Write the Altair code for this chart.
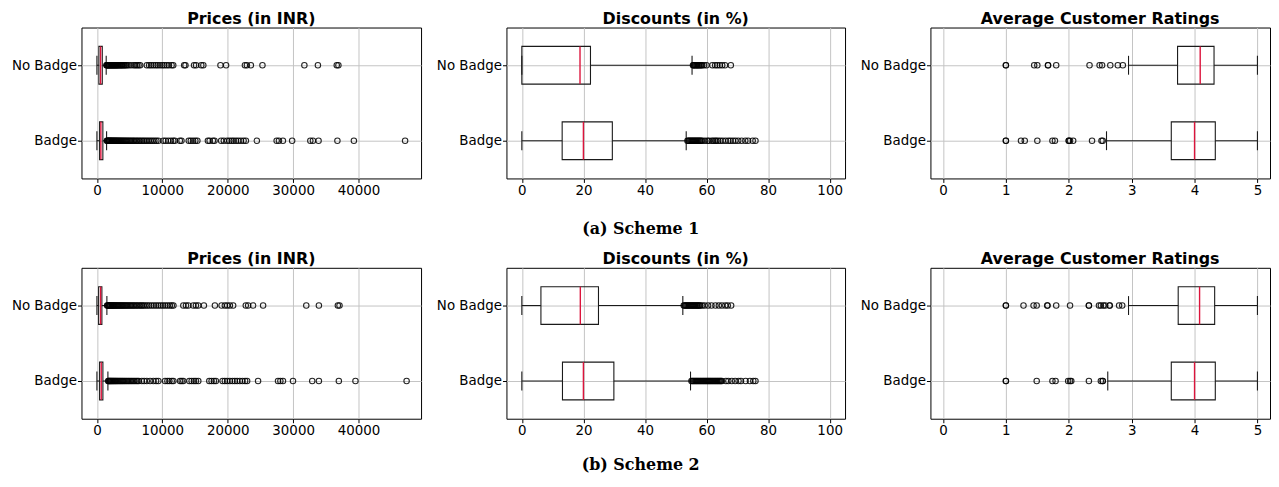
import altair as alt
import pandas as pd

groups = ["Badge", "No Badge"]
positions = [1, 2]

# box stats: [whisker_lo, q1, median, q3, whisker_hi]
s1_price_b = [0, 410, 606, 910, 1480]
s1_price_nb = [0, 300, 560, 820, 1420]
s1_disc_b = [0, 13.1, 20.0, 29.4, 53.4]
s1_disc_nb = [0, 0, 18.9, 22.3, 55.3]
s1_rat_b = [2.6, 3.63, 4.0, 4.33, 5.0]
s1_rat_nb = [2.95, 3.73, 4.09, 4.31, 5.0]

s2_price_b = [0, 410, 660, 915, 1680]
s2_price_nb = [0, 260, 560, 760, 1524]
s2_disc_b = [0, 13.2, 20.0, 29.9, 54.8]
s2_disc_nb = [0, 6.2, 19.0, 24.9, 52.3]
s2_rat_b = [2.62, 3.63, 4.0, 4.33, 5.0]
s2_rat_nb = [2.95, 3.74, 4.08, 4.32, 5.0]

# outliers
s1_price_nb_out = [1450, 1530, 1610, 1700, 1790, 1880, 1960, 2050, 2150, 2240, 2330, 2420, 2520, 2610,
                   2700, 2800, 2900, 3000, 3100, 3200, 3320, 3450, 3560, 3700, 3820, 3950, 4100, 4250,
                   4400, 4600, 4850, 5210, 5610, 5860, 6120, 6370, 6620, 7630, 7980, 8290, 8640, 8990,
                   9300, 9650, 10000, 10310, 10660, 11010, 11420, 11670, 13340, 13540, 14850, 15160,
                   15960, 16270, 18890, 19750, 22630, 22930, 23540, 25310, 31720, 33790, 36670, 36920]
s1_price_b_out = [1520, 1600, 1690, 1780, 1870, 1960, 2060, 2160, 2260, 2360, 2470, 2580, 2690, 2800,
                  2920, 3040, 3160, 3290, 3420, 3560, 3700, 3850, 4000, 4160, 4320, 4490, 4660, 4840,
                  5020, 5210, 5400, 5600, 5800, 6010, 6230, 6450, 6680, 6920, 7160, 7410, 7670, 7940,
                  8220, 8500, 8790, 9090, 9400, 10160, 10510, 10910, 11320, 11670, 11920, 12680, 12930,
                  14040, 14350, 14700, 15050, 15360, 16970, 17230, 17730, 17980, 18990, 19400, 19900,
                  20260, 20610, 20910, 21270, 21620, 22020, 22430, 22780, 24450, 27480, 27830, 28440,
                  29850, 32630, 33030, 33890, 36770, 39290, 47120]
s1_disc_nb_out = [55.6, 55.8, 56.0, 56.3, 56.6, 56.9, 57.1, 57.4, 57.7, 58.0, 58.3, 58.6, 59.2, 60.0,
                  61.9, 62.8, 63.5, 64.3, 65.1, 66.0, 67.9]
s1_disc_b_out = [53.8, 54.1, 54.4, 54.7, 55.0, 55.3, 55.6, 55.9, 56.2, 56.5, 56.8, 57.1, 57.4, 57.7,
                 58.0, 58.3, 58.7, 59.5, 60.3, 60.8, 61.7, 62.2, 62.8, 63.2, 63.8, 64.5, 65.3, 66.2,
                 67.1, 67.8, 68.6, 69.4, 70.3, 71.4, 72.6, 73.5, 75.0, 75.9]
s1_rat_nb_out = [1.0, 1.0, 1.45, 1.5, 1.67, 1.67, 1.8, 2.33, 2.49, 2.53, 2.66, 2.78, 2.86]
s1_rat_b_out = [1.0, 1.0, 1.24, 1.30, 1.50, 1.74, 1.78, 2.0, 2.0, 2.02, 2.07, 2.37, 2.52, 2.54]

s2_price_nb_out = [1560, 1650, 1740, 1830, 1930, 2030, 2130, 2240, 2350, 2460, 2570, 2690, 2810, 2940,
                   3070, 3200, 3340, 3480, 3630, 3780, 3940, 4100, 4270, 4440, 4620, 4800, 4990, 5180,
                   5380, 5580, 5790, 6000, 6220, 6450, 6680, 6900, 7120, 7400, 7700, 8000, 8350, 8700,
                   9050, 9400, 9750, 10100, 10450, 10800, 11150, 11450, 11700, 13210, 13620, 13980,
                   14740, 15140, 15500, 16360, 18040, 19060, 19560, 19920, 20330, 20830, 22760, 23120,
                   23880, 25410, 32010, 33940, 36840, 37090]
s2_price_b_out = [1720, 1810, 1900, 2000, 2100, 2200, 2310, 2420, 2530, 2650, 2770, 2890, 3020, 3150,
                  3290, 3430, 3580, 3730, 3890, 4050, 4220, 4390, 4570, 4760, 4950, 5150, 5350, 5560,
                  5770, 5990, 6200, 6400, 6860, 7220, 7630, 8130, 8640, 9050, 9400, 10420, 10780,
                  11080, 11440, 11690, 12710, 12960, 13210, 14130, 14480, 14840, 15140, 15500, 17180,
                  17530, 17890, 18190, 19210, 19560, 19920, 20330, 20730, 21090, 21440, 21850, 22260,
                  22660, 22970, 24640, 27690, 28050, 28450, 29980, 32920, 33940, 36990, 39530, 47350]
s2_disc_nb_out = [52.6, 52.9, 53.2, 53.5, 53.8, 54.1, 54.4, 54.7, 55.0, 55.3, 55.6, 55.9, 56.2,
                  56.5, 56.8, 57.1, 57.4, 57.7, 58.0, 58.6, 59.4, 60.5, 61.6, 62.9, 64.0, 65.0, 66.1,
                  66.9, 68.0]
s2_disc_b_out = [55.1, 55.4, 55.7, 56.0, 56.3, 56.6, 56.9, 57.2, 57.5, 57.8, 58.1, 58.4, 58.7, 59.0,
                 59.3, 59.6, 59.9, 60.2, 60.5, 60.8, 61.1, 61.4, 61.7, 62.0, 62.3, 62.6, 62.9, 63.2,
                 63.5, 63.8, 64.1, 64.4, 64.7, 65.0, 66.3, 67.1, 68.2, 69.3, 70.4, 71.2, 72.7, 74.1,
                 75.2, 75.9]
s2_rat_nb_out = [1.0, 1.0, 1.28, 1.44, 1.49, 1.66, 1.66, 1.80, 2.02, 2.32, 2.32, 2.48, 2.51, 2.55,
                 2.58, 2.65, 2.65, 2.80, 2.85]
s2_rat_b_out = [1.0, 1.0, 1.49, 1.74, 1.79, 1.99, 2.02, 2.04, 2.32, 2.51, 2.54, 2.54]

price_ticks = [0, 10000, 20000, 30000, 40000]
disc_ticks = [0, 20, 40, 60, 80, 100]
rat_ticks = [0, 1, 2, 3, 4, 5]
price_domain = [-2360, 49560]
disc_domain = [-5, 105]
rat_domain = [-0.2, 5.2]

MED_RED = "#dc143c"
EDGE = "#1a1a1a"


def panel(title, st_b, st_nb, out_b, out_nb, domain, ticks, w, h):
    box_df = pd.DataFrame({
        "group": groups, "pos": positions,
        "lo": [st_b[0], st_nb[0]], "q1": [st_b[1], st_nb[1]], "med": [st_b[2], st_nb[2]],
        "q3": [st_b[3], st_nb[3]], "hi": [st_b[4], st_nb[4]],
    })
    out_df = pd.DataFrame({"pos": [1] * len(out_b) + [2] * len(out_nb), "value": out_b + out_nb})
    xs = alt.Scale(domain=domain, nice=False, zero=False)
    ys = alt.Scale(domain=[0.5, 2.5], nice=False, zero=False)
    xax = alt.Axis(values=ticks, format="d", title=None, grid=True)
    yax = alt.Axis(values=[1, 2], labelExpr="datum.value == 2 ? 'No Badge' : 'Badge'",
                   title=None, grid=True)
    base = alt.Chart(box_df).transform_calculate(
        b0="datum.pos - 0.25", b1="datum.pos + 0.25",
        c0="datum.pos - 0.125", c1="datum.pos + 0.125")
    X = lambda f: alt.X(f, type="quantitative", scale=xs, axis=xax)
    Y = lambda f: alt.Y(f, type="quantitative", scale=ys, axis=yax)
    w_lo = base.mark_rule(color=EDGE, strokeWidth=1.1).encode(x=X("lo"), x2="q1:Q", y=Y("pos"))
    w_hi = base.mark_rule(color=EDGE, strokeWidth=1.1).encode(x=X("q3"), x2="hi:Q", y=Y("pos"))
    box = base.mark_rect(fillOpacity=0, stroke=EDGE, strokeWidth=1.1).encode(
        x=X("q1"), x2="q3:Q", y=Y("b0"), y2="b1:Q")
    med = base.mark_rule(color=MED_RED, strokeWidth=1.4).encode(x=X("med"), y=Y("b0"), y2="b1:Q")
    cap_lo = base.mark_rule(color=EDGE, strokeWidth=1.1).encode(x=X("lo"), y=Y("c0"), y2="c1:Q")
    cap_hi = base.mark_rule(color=EDGE, strokeWidth=1.1).encode(x=X("hi"), y=Y("c0"), y2="c1:Q")
    pts = alt.Chart(out_df).mark_point(shape="circle", filled=False, size=30, color="black",
                                       strokeWidth=1.1, opacity=0.85).encode(x=X("value"), y=Y("pos"))
    return alt.layer(w_lo, w_hi, box, med, cap_lo, cap_hi, pts).properties(
        width=w, height=h, title=title)


def caption(text, dy):
    return alt.TitleParams(text, orient="bottom", anchor="middle", frame="bounds",
                           font="DejaVu Serif", fontSize=16, fontWeight="bold",
                           color="black", offset=dy)


row1 = alt.hconcat(
    panel("Prices (in INR)", s1_price_b, s1_price_nb, s1_price_b_out, s1_price_nb_out,
          price_domain, price_ticks, 342, 152),
    panel("Discounts (in %)", s1_disc_b, s1_disc_nb, s1_disc_b_out, s1_disc_nb_out,
          disc_domain, disc_ticks, 341, 152),
    panel("Average Customer Ratings", s1_rat_b, s1_rat_nb, s1_rat_b_out, s1_rat_nb_out,
          rat_domain, rat_ticks, 342, 152),
    spacing=86, bounds="flush", title=caption("(a) Scheme 1", 24),
)
row2 = alt.hconcat(
    panel("Prices (in INR)", s2_price_b, s2_price_nb, s2_price_b_out, s2_price_nb_out,
          price_domain, price_ticks, 342, 152),
    panel("Discounts (in %)", s2_disc_b, s2_disc_nb, s2_disc_b_out, s2_disc_nb_out,
          disc_domain, disc_ticks, 341, 152),
    panel("Average Customer Ratings", s2_rat_b, s2_rat_nb, s2_rat_b_out, s2_rat_nb_out,
          rat_domain, rat_ticks, 342, 152),
    spacing=86, bounds="flush", title=caption("(b) Scheme 2", 20),
)

chart = alt.vconcat(row1, row2, spacing=13).properties(
    padding={"left": 2, "top": 0, "right": 0, "bottom": 0}
).configure_axis(
    labelFont="DejaVu Sans", labelFontSize=13.5, labelColor="black",
    tickColor="black", tickSize=4, labelPadding=1, domain=False,
    gridColor="#c4c4c4", gridWidth=1,
).configure_view(
    stroke="black", strokeWidth=1,
).configure_title(
    font="DejaVu Sans", fontSize=16, fontWeight="bold", color="black", offset=1, frame="group",
)

chart.save("out.html", embed_options={"renderer": "svg", "actions": False})
